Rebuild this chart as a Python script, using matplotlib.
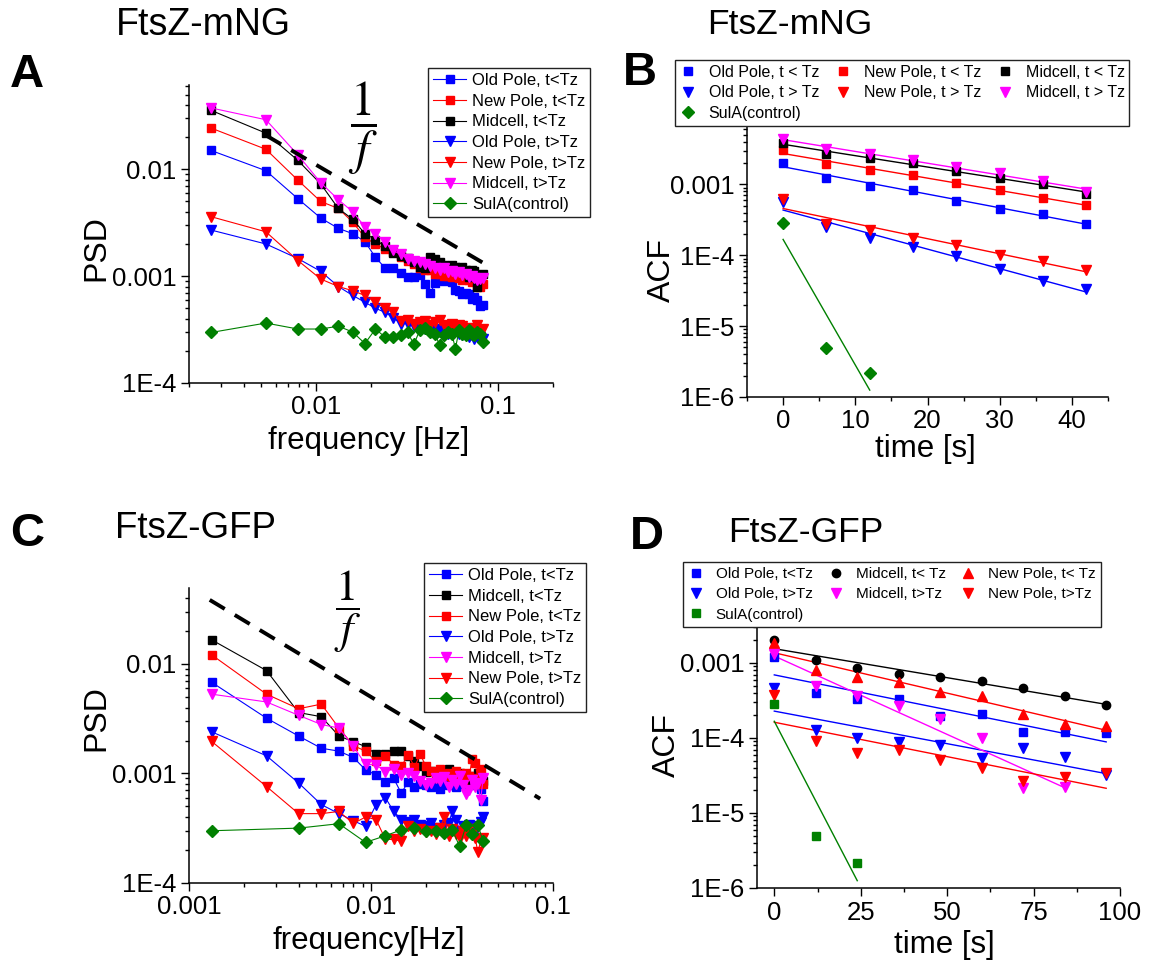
import numpy as np
import matplotlib
matplotlib.use('Agg')
import matplotlib.pyplot as plt
from matplotlib.ticker import FixedLocator, FixedFormatter, LogLocator, NullFormatter, MultipleLocator

# ---------------- data ----------------
# Panel A (FtsZ-mNG PSD); frequency grid step 1/(63*6 s)
FREQ_STEP_A = 1 / 378.0
freq_a = FREQ_STEP_A * np.arange(1, 32)
A_old_lt = [0.0150, 0.0097, 0.0053, 0.0035, 0.0028, 0.0025, 0.0021, 0.0015, 0.0012, 0.00118, 0.00107,
            0.00098, 0.00099, 0.00103, 0.00084, 0.00069, 0.00086, 0.00094, 0.00091, 0.00097, 0.00088,
            0.00074, 0.00073, 0.00068, 0.00070, 0.00068, 0.00061, 0.00064, 0.00060, 0.00053, 0.00054]
A_new_lt = [0.0243, 0.0154, 0.0079, 0.0050, 0.0043, 0.0032, 0.0023, 0.0020, 0.0018, 0.00168, 0.0015,
            0.0014, 0.0013, 0.00118, 0.00113, 0.00113, 0.00105, 0.00104, 0.00101, 0.00100, 0.00098,
            0.00103, 0.00096, 0.00093, 0.00100, 0.00092, 0.00089, 0.00094, 0.00082, 0.00079, 0.00085]
A_mid_lt = [0.0356, 0.0218, 0.0121, 0.0073, 0.0043, 0.0034, 0.0025, 0.0022, 0.0019, 0.00164, 0.00156,
            0.00149, 0.00136, 0.00121, 0.00120, 0.00150, 0.00145, 0.00136, 0.00128, 0.00125, 0.00128,
            0.00121, 0.00118, 0.00121, 0.00113, 0.00098, 0.00115, 0.00112, 0.00079, 0.00098, 0.00105]
A_old_gt = [0.0027, 0.0020, 0.00146, 0.00111, 0.00080, 0.00066, 0.00057, 0.00050, 0.00046, 0.00041,
            0.00036, 0.00036, 0.00034, 0.00033, 0.00032, 0.00031, 0.00032, 0.00030, 0.00031, 0.00029,
            0.00030, 0.00031, 0.00029, 0.00028, 0.00029, 0.00027, 0.00028, 0.00026, 0.00027, 0.00027, 0.00026]
A_new_gt = [0.0036, 0.0026, 0.0014, 0.00094, 0.00080, 0.00073, 0.00066, 0.00057, 0.00050, 0.00046,
            0.00038, 0.00039, 0.00036, 0.00037, 0.00038, 0.00035, 0.00037, 0.00039, 0.00035, 0.00034,
            0.00036, 0.00033, 0.00035, 0.00034, 0.00032, 0.00033, 0.00031, 0.00032, 0.00035, 0.00031, 0.00032]
A_mid_gt = [0.0375, 0.0291, 0.0136, 0.0075, 0.0052, 0.0040, 0.0029, 0.0025, 0.0021, 0.00174, 0.0016,
            0.00146, 0.0014, 0.00135, 0.0013, 0.00125, 0.0012, 0.00115, 0.00118, 0.0011, 0.00112,
            0.00105, 0.0011, 0.00102, 0.00105, 0.00098, 0.0010, 0.00096, 0.00092, 0.00095, 0.00097]
A_sula = [0.000297, 0.000364, 0.00032, 0.00032, 0.00034, 0.00030, 0.000234, 0.00032, 0.00027, 0.00027,
          0.00028, 0.00030, 0.00023, 0.00031, 0.00033, 0.00030, 0.00029, 0.000225, 0.00028, 0.00030,
          0.00029, 0.00021, 0.00031, 0.00029, 0.00028, 0.00031, 0.00029, 0.00028, 0.00030, 0.00029, 0.00024]
A_oneover_f = dict(c=1.1e-4, f0=0.0053, f1=0.082)

# Panel C (FtsZ-GFP PSD); frequency grid step 1/(62.5*12 s)
FREQ_STEP_C = 1 / 750.0
freq_c = FREQ_STEP_C * np.arange(1, 32)
freq_c_sula = FREQ_STEP_C * np.arange(1, 32, 2)
C_old_lt = [0.0068, 0.0032, 0.0022, 0.0017, 0.0016, 0.0014, 0.00108, 0.00097, 0.00084, 0.0009, 0.00066,
            0.00084, 0.00076, 0.0008, 0.00078, 0.00075, 0.00082, 0.00072, 0.0008, 0.00078, 0.00085,
            0.00076, 0.00082, 0.00079, 0.00075, 0.0008, 0.00085, 0.00078, 0.0008, 0.00072, 0.00056]
C_mid_lt = [0.0166, 0.0087, 0.0036, 0.0033, 0.0022, 0.00195, 0.00176, 0.0015, 0.0015, 0.0016, 0.0016,
            0.00143, 0.0013, 0.00116, 0.00104, 0.00105, 0.0010, 0.00095, 0.00102, 0.0011, 0.00098,
            0.00095, 0.0010, 0.00092, 0.0009, 0.00088, 0.00095, 0.00082, 0.0010, 0.0009, 0.00085]
C_new_lt = [0.0121, 0.0053, 0.0039, 0.0043, 0.0026, 0.0018, 0.0016, 0.0013, 0.00145, 0.0012, 0.00116,
            0.00148, 0.00115, 0.0015, 0.00116, 0.00105, 0.0009, 0.0011, 0.00095, 0.0010, 0.00092,
            0.00105, 0.00098, 0.00088, 0.0010, 0.00095, 0.00137, 0.00125, 0.0009, 0.0011, 0.0008]
C_old_gt = [0.0024, 0.00145, 0.00082, 0.00052, 0.00043, 0.00037, 0.00033, 0.00052, 0.0006, 0.00045,
            0.00038, 0.00036, 0.00038, 0.00034, 0.00033, 0.00035, 0.00032, 0.00031, 0.00034, 0.00035,
            0.00045, 0.00038, 0.0003, 0.00033, 0.00031, 0.00034, 0.00031, 0.00029, 0.00033, 0.00036, 0.0004]
C_mid_gt = [0.0053, 0.0045, 0.0034, 0.0028, 0.0026, 0.00177, 0.00121, 0.0012, 0.00104, 0.0011, 0.00097,
            0.0010, 0.00095, 0.00085, 0.00078, 0.00082, 0.0009, 0.00085, 0.00092, 0.00075, 0.00088,
            0.0008, 0.00095, 0.00078, 0.00065, 0.0007, 0.00088, 0.00075, 0.00082, 0.00057, 0.0009]
C_new_gt = [0.00196, 0.00076, 0.00043, 0.00043, 0.00045, 0.00035, 0.0004, 0.00038, 0.00025, 0.00025,
            0.00024, 0.00033, 0.0003, 0.00031, 0.00029, 0.0003, 0.00028, 0.00032, 0.0004, 0.00027,
            0.00031, 0.00028, 0.00026, 0.0003, 0.00027, 0.00031, 0.00028, 0.00026, 0.00019, 0.00024, 0.00026]
C_sula = [0.00030, 0.000317, 0.000348, 0.000235, 0.00027, 0.000306, 0.000317, 0.000296, 0.000296,
          0.000286, 0.000306, 0.000216, 0.000338, 0.00028, 0.000338, 0.00024]
C_oneover_f = dict(c=5.0e-5, f0=0.0013, f1=0.085)

# Panel B (FtsZ-mNG ACF)
time_b = [0, 6, 12, 18, 24, 30, 36, 42]
time_b_sula = [0, 6, 12]
B_old_lt = [2.03e-3, 1.24e-3, 9.6e-4, 8.3e-4, 5.9e-4, 4.5e-4, 3.8e-4, 2.8e-4]
B_new_lt = [3.08e-3, 1.92e-3, 1.6e-3, 1.34e-3, 1.06e-3, 8.4e-4, 6.5e-4, 5.1e-4]
B_mid_lt = [3.83e-3, 2.7e-3, 2.34e-3, 1.99e-3, 1.56e-3, 1.24e-3, 1.0e-3, 7.4e-4]
B_old_gt = [5.7e-4, 2.5e-4, 1.76e-4, 1.33e-4, 9.7e-5, 6.4e-5, 4.4e-5, 3.3e-5]
B_new_gt = [6.3e-4, 2.73e-4, 2.24e-4, 1.76e-4, 1.42e-4, 1.02e-4, 8.2e-5, 6.3e-5]
B_mid_gt = [4.36e-3, 3.15e-3, 2.7e-3, 2.22e-3, 1.78e-3, 1.43e-3, 1.11e-3, 7.9e-4]
B_sula = [2.88e-4, 4.9e-6, 2.15e-6]

# Panel D (FtsZ-GFP ACF)
time_d = [0, 12, 24, 36, 48, 60, 72, 84, 96]
time_d_mid_gt = [0, 12, 24, 36, 48, 60, 72, 84]
time_d_sula = [0, 12, 24]
D_old_lt = [1.2e-3, 4.0e-4, 3.3e-4, 3.3e-4, 1.95e-4, 2.1e-4, 1.2e-4, 1.19e-4, 1.17e-4]
D_mid_lt = [2.05e-3, 1.1e-3, 8.6e-4, 7.1e-4, 6.5e-4, 5.7e-4, 4.7e-4, 3.6e-4, 2.75e-4]
D_new_lt = [1.85e-3, 8.1e-4, 6.6e-4, 5.5e-4, 4.1e-4, 3.6e-4, 2.1e-4, 1.54e-4, 1.46e-4]
D_old_gt = [4.7e-4, 1.29e-4, 1.0e-4, 8.75e-5, 8.0e-5, 5.4e-5, 7.4e-5, 5.5e-5, 3.2e-5]
D_mid_gt = [1.3e-3, 5.0e-4, 3.6e-4, 2.64e-4, 1.8e-4, 1.0e-4, 2.15e-5, 2.2e-5]
D_new_gt = [3.8e-4, 9.0e-5, 6.3e-5, 7.0e-5, 5.1e-5, 4.0e-5, 2.7e-5, 3.0e-5, 3.4e-5]
D_sula = [2.87e-4, 4.9e-6, 2.15e-6]

BLUE, RED, BLACK, MAG, GREEN = '#0000FF', '#FF0000', '#000000', '#FF00FF', '#008000'

# ---------------- figure ----------------
W, H = 1163, 966
plt.rcParams['font.family'] = ['Liberation Sans', 'DejaVu Sans']
plt.rcParams['mathtext.fontset'] = 'stix'
fig = plt.figure(figsize=(W / 100, H / 100), dpi=100)


def axes_px(l, t, r, b):
    return fig.add_axes([l / W, 1 - b / H, (r - l) / W, (b - t) / H])


def fxy(x, y):
    return (x / W, 1 - y / H)


def style(ax):
    for s in ('top', 'right'):
        ax.spines[s].set_visible(False)
    for s in ('left', 'bottom'):
        ax.spines[s].set_linewidth(1.1)
    ax.tick_params(which='both', direction='out', width=1.0, labelsize=18.5, pad=3)
    ax.tick_params(which='major', length=6)
    ax.tick_params(which='minor', length=3)


def log_yticks(ax, vals, labels):
    ax.yaxis.set_major_locator(FixedLocator(vals))
    ax.yaxis.set_major_formatter(FixedFormatter(labels))
    ax.yaxis.set_minor_locator(LogLocator(base=10, subs=np.arange(2, 10), numticks=20))
    ax.yaxis.set_minor_formatter(NullFormatter())


def log_xticks(ax, vals, labels):
    ax.xaxis.set_major_locator(FixedLocator(vals))
    ax.xaxis.set_major_formatter(FixedFormatter(labels))
    ax.xaxis.set_minor_locator(LogLocator(base=10, subs=np.arange(2, 10), numticks=20))
    ax.xaxis.set_minor_formatter(NullFormatter())


def legend_frame(leg):
    fr = leg.get_frame()
    fr.set_edgecolor('#222222')
    fr.set_linewidth(1.0)
    fr.set_facecolor('white')
    fr.set_alpha(1)
    leg.set_zorder(20)


# ---- Panel A ----
axA = axes_px(189, 85, 553, 383)
style(axA)
axA.set_xscale('log'); axA.set_yscale('log')
axA.set_xlim(0.002, 0.2); axA.set_ylim(1e-4, 0.0615)
seriesA = [(A_old_lt, BLUE, 's', 'Old Pole, t<Tz'), (A_new_lt, RED, 's', 'New Pole, t<Tz'),
           (A_mid_lt, BLACK, 's', 'Midcell, t<Tz'), (A_old_gt, BLUE, 'v', 'Old Pole, t>Tz'),
           (A_new_gt, RED, 'v', 'New Pole, t>Tz'), (A_mid_gt, MAG, 'v', 'Midcell, t>Tz'),
           (A_sula, GREEN, 'D', 'SulA(control)')]
hA = []
for vals, c, m, lab in seriesA:
    ms = 6 if m == 's' else (7.5 if m == 'v' else 6)
    h, = axA.plot(freq_a, vals, color=c, marker=m, ms=ms, lw=0.8, mec=c, mfc=c, label=lab, clip_on=False)
    hA.append(h)
fA = np.array([A_oneover_f['f0'], A_oneover_f['f1']])
axA.plot(fA, A_oneover_f['c'] / fA, color='black', lw=2.8, ls=(0, (4.5, 3)), zorder=5)
log_xticks(axA, [0.01, 0.1], ['0.01', '0.1'])
log_yticks(axA, [1e-4, 1e-3, 1e-2], ['1E-4', '0.001', '0.01'])
legA = fig.legend(handles=hA, loc='upper left', bbox_to_anchor=fxy(428, 68), bbox_transform=fig.transFigure,
                  fontsize=12, borderaxespad=0, borderpad=0.3, labelspacing=0.34, handlelength=2.0,
                  handletextpad=0.35, fancybox=False, framealpha=1)
legend_frame(legA)

# ---- Panel C ----
axC = axes_px(189, 588, 553, 883)
style(axC)
axC.set_xscale('log'); axC.set_yscale('log')
axC.set_xlim(0.001, 0.1); axC.set_ylim(1e-4, 0.0494)
seriesC = [(C_old_lt, BLUE, 's', 'Old Pole, t<Tz', freq_c), (C_mid_lt, BLACK, 's', 'Midcell, t<Tz', freq_c),
           (C_new_lt, RED, 's', 'New Pole, t<Tz', freq_c), (C_old_gt, BLUE, 'v', 'Old Pole, t>Tz', freq_c),
           (C_mid_gt, MAG, 'v', 'Midcell, t>Tz', freq_c), (C_new_gt, RED, 'v', 'New Pole, t>Tz', freq_c),
           (C_sula, GREEN, 'D', 'SulA(control)', freq_c_sula)]
hC = []
for vals, c, m, lab, fr in seriesC:
    ms = 6 if m == 's' else (7.5 if m == 'v' else 6)
    h, = axC.plot(fr, vals, color=c, marker=m, ms=ms, lw=0.8, mec=c, mfc=c, label=lab, clip_on=False)
    hC.append(h)
fC = np.array([C_oneover_f['f0'], C_oneover_f['f1']])
axC.plot(fC, C_oneover_f['c'] / fC, color='black', lw=2.8, ls=(0, (4.5, 3)), zorder=5, clip_on=False)
log_xticks(axC, [0.001, 0.01, 0.1], ['0.001', '0.01', '0.1'])
log_yticks(axC, [1e-4, 1e-3, 1e-2], ['1E-4', '0.001', '0.01'])
legC = fig.legend(handles=hC, loc='upper left', bbox_to_anchor=fxy(424, 563), bbox_transform=fig.transFigure,
                  fontsize=12, borderaxespad=0, borderpad=0.3, labelspacing=0.34, handlelength=2.0,
                  handletextpad=0.35, fancybox=False, framealpha=1)
legend_frame(legC)


def acf_panel(ax, series):
    handles = {}
    for t, vals, c, m, lab in series:
        ms = 6 if m in ('s', 'o') else (7.5 if m in ('v', '^') else 6)
        h, = ax.plot(t, vals, ls='none', marker=m, ms=ms, color=c, label=lab, clip_on=False, zorder=4)
        handles[lab] = h
        p = np.polyfit(t, np.log10(vals), 1)
        tt = np.array([t[0], t[-1]])
        ax.plot(tt, 10 ** np.polyval(p, tt), color=c, lw=1.0, zorder=3)
    return handles


# ---- Panel B ----
axB = axes_px(747, 127, 1108, 397)
style(axB)
axB.set_yscale('log')
axB.set_xlim(-5, 45); axB.set_ylim(1e-6, 0.00647)
seriesB = [(time_b, B_old_lt, BLUE, 's', 'Old Pole, t < Tz'), (time_b, B_new_lt, RED, 's', 'New Pole, t < Tz'),
           (time_b, B_mid_lt, BLACK, 's', 'Midcell, t < Tz'), (time_b, B_old_gt, BLUE, 'v', 'Old Pole, t > Tz'),
           (time_b, B_new_gt, RED, 'v', 'New Pole, t > Tz'), (time_b, B_mid_gt, MAG, 'v', 'Midcell, t > Tz'),
           (time_b_sula, B_sula, GREEN, 'D', 'SulA(control)')]
hB = acf_panel(axB, seriesB)
axB.xaxis.set_major_locator(MultipleLocator(10))
axB.xaxis.set_minor_locator(MultipleLocator(5))
log_yticks(axB, [1e-6, 1e-5, 1e-4, 1e-3], ['1E-6', '1E-5', '1E-4', '0.001'])
orderB = ['Old Pole, t < Tz', 'Old Pole, t > Tz', 'SulA(control)', 'New Pole, t < Tz', 'New Pole, t > Tz',
          'Midcell, t < Tz', 'Midcell, t > Tz']
legB = fig.legend(handles=[hB[k] for k in orderB], ncol=3, loc='upper left', bbox_to_anchor=fxy(675, 60),
                  bbox_transform=fig.transFigure, fontsize=11.5, borderaxespad=0, borderpad=0.3,
                  labelspacing=0.35, handlelength=1.0, handletextpad=0.8, columnspacing=1.0,
                  fancybox=False, framealpha=1)
legend_frame(legB)

# ---- Panel D ----
axD = axes_px(757, 625, 1120, 888)
style(axD)
axD.set_yscale('log')
axD.set_xlim(-5, 100); axD.set_ylim(1e-6, 0.00321)
seriesD = [(time_d, D_old_lt, BLUE, 's', 'Old Pole, t<Tz'), (time_d, D_mid_lt, BLACK, 'o', 'Midcell, t< Tz'),
           (time_d, D_new_lt, RED, '^', 'New Pole, t< Tz'), (time_d, D_old_gt, BLUE, 'v', 'Old Pole, t>Tz'),
           (time_d_mid_gt, D_mid_gt, MAG, 'v', 'Midcell, t>Tz'), (time_d, D_new_gt, RED, 'v', 'New Pole, t>Tz'),
           (time_d_sula, D_sula, GREEN, 's', 'SulA(control)')]
hD = acf_panel(axD, seriesD)
axD.xaxis.set_major_locator(MultipleLocator(25))
axD.xaxis.set_minor_locator(MultipleLocator(12.5))
log_yticks(axD, [1e-6, 1e-5, 1e-4, 1e-3], ['1E-6', '1E-5', '1E-4', '0.001'])
orderD = ['Old Pole, t<Tz', 'Old Pole, t>Tz', 'SulA(control)', 'Midcell, t< Tz', 'Midcell, t>Tz',
          'New Pole, t< Tz', 'New Pole, t>Tz']
legD = fig.legend(handles=[hD[k] for k in orderD], ncol=3, loc='upper left', bbox_to_anchor=fxy(683, 562),
                  bbox_transform=fig.transFigure, fontsize=11, borderaxespad=0, borderpad=0.35,
                  labelspacing=0.4, handlelength=1.0, handletextpad=0.8, columnspacing=1.0,
                  fancybox=False, framealpha=1)
legend_frame(legD)

# ---- texts ----
def ftext(x, y, s, **kw):
    fig.text(*fxy(x, y), s, ha='center', va='center', **kw)

ftext(203, 25, 'FtsZ-mNG', fontsize=27)
ftext(790, 25, 'FtsZ-mNG', fontsize=25.5)
ftext(196, 529, 'FtsZ-GFP', fontsize=26.5)
ftext(806, 532, 'FtsZ-GFP', fontsize=25.5)
ftext(27, 75, 'A', fontsize=34, fontweight='bold')
ftext(640, 73, 'B', fontsize=34, fontweight='bold')
ftext(27, 534, 'C', fontsize=34, fontweight='bold')
ftext(647, 537, 'D', fontsize=34, fontweight='bold')
ftext(96, 248, 'PSD', fontsize=23, rotation=90)
ftext(96, 718, 'PSD', fontsize=23, rotation=90)
ftext(662, 270, 'ACF', fontsize=23, rotation=90)
ftext(667, 745, 'ACF', fontsize=23, rotation=90)
ftext(369, 441, 'frequency [Hz]', fontsize=22.5)
ftext(369, 941, 'frequency[Hz]', fontsize=22.5)
ftext(925, 449, 'time [s]', fontsize=22.5)
ftext(944, 945, 'time [s]', fontsize=22.5)
ftext(363, 128, r'$\dfrac{1}{f}$', fontsize=35)
ftext(348, 612, r'$\dfrac{1}{f}$', fontsize=32)

fig.savefig('out.png', dpi=100)
